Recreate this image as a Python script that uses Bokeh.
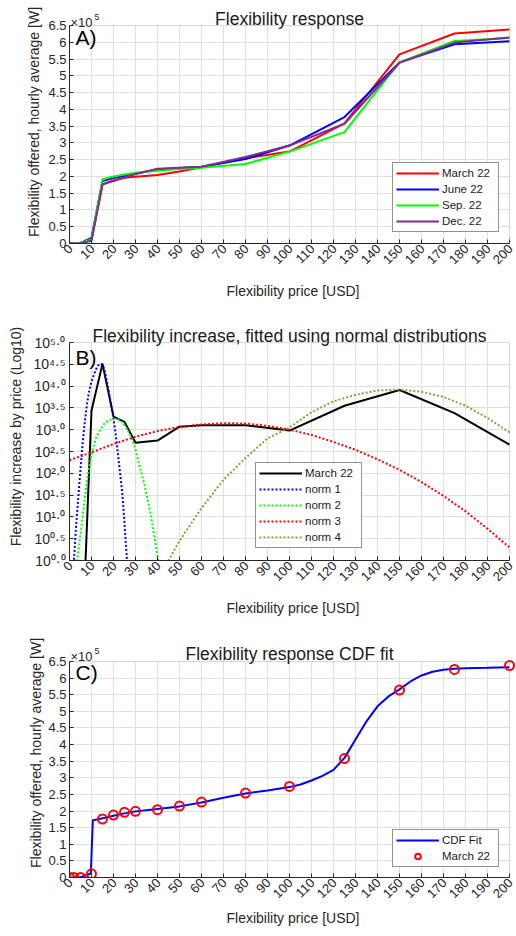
import math
from bokeh.plotting import figure
from bokeh.layouts import column
from bokeh.models import (FixedTicker, NumeralTickFormatter, CustomJSTickFormatter, Label,
                          BoxAnnotation, LinearAxis, Range1d)
from bokeh.embed import file_html
from bokeh.resources import INLINE

FONT = "Liberation Sans"
INK = "#262626"
GRID = "#dfdfdf"
EDGE = "#9a9a9a"

price_ticks = list(range(0, 201, 10))
power_ticks = [0, 0.5, 1, 1.5, 2, 2.5, 3, 3.5, 4, 4.5, 5, 5.5, 6, 6.5]
log_tick_exponents = [0.0, 0.5, 1.0, 1.5, 2.0, 2.5, 3.0, 3.5, 4.0, 4.5, 5.0]

# ---- Panel A / C data: flexibility offered (x 1e5 W) vs price (USD)
price = [0, 2, 5, 10, 15, 20, 25, 30, 40, 50, 60, 80, 100, 125, 150, 175, 200]
march22 = [0, 0, 0, 0.11, 1.76, 1.88, 1.96, 1.99, 2.04, 2.15, 2.27, 2.54, 2.74, 3.58, 5.64, 6.26, 6.38]
june22 = [0, 0, 0.02, 0.17, 1.86, 1.95, 2.02, 2.08, 2.21, 2.25, 2.29, 2.52, 2.92, 3.77, 5.40, 5.94, 6.03]
sep22 = [0, 0, 0.02, 0.12, 1.92, 2.00, 2.06, 2.11, 2.17, 2.22, 2.26, 2.37, 2.74, 3.32, 5.40, 6.04, 6.13]
dec22 = [0, 0, 0.01, 0.08, 1.77, 1.86, 1.97, 2.07, 2.23, 2.26, 2.29, 2.58, 2.92, 3.57, 5.39, 5.99, 6.14]

# ---- Panel B data: log10 of flexibility increase by price
inc_x = [5, 10, 15, 20, 25, 30, 40, 50, 60, 80, 100, 125, 150, 175, 200]
inc_log = [-2.9, 3.44, 4.51, 3.30, 3.18, 2.70, 2.75, 3.07, 3.10, 3.10, 2.98, 3.55, 3.91, 3.38, 2.66]

norm1_x = [1, 2, 3, 4, 5, 6, 7, 8, 9, 10, 11, 12, 13, 14, 15, 16, 17, 18, 19, 20, 21, 22, 23, 24, 25, 26, 27]
norm1_log = [-0.9, 0.0, 0.8, 1.45, 2.1, 2.7, 3.2, 3.6, 3.9, 4.1, 4.25, 4.38, 4.47, 4.51, 4.5, 4.35, 4.1,
             3.85, 3.55, 3.25, 2.9, 2.45, 2.0, 1.55, 0.85, 0.1, -0.6]

norm2_x = [3, 4, 5, 6, 7, 8, 9, 10, 12, 14, 16, 18, 20, 22, 24, 26, 28, 30, 32, 34, 36, 38, 40, 41]
norm2_log = [-0.2, 0.2, 0.6, 1.0, 1.45, 1.85, 2.15, 2.42, 2.8, 3.0, 3.15, 3.22, 3.25, 3.24, 3.17, 3.03,
             2.83, 2.55, 2.15, 1.75, 1.3, 0.75, 0.1, -0.2]

norm3_x = [0, 10, 20, 30, 40, 50, 60, 70, 80, 90, 100, 110, 120, 130, 140, 150, 160, 170, 180, 190, 200]
norm3_log = [2.30, 2.48, 2.67, 2.84, 2.97, 3.06, 3.12, 3.15, 3.14, 3.09, 3.00, 2.88, 2.72, 2.54, 2.32,
             2.08, 1.80, 1.48, 1.13, 0.73, 0.30]

norm4_x = [40, 45, 50, 60, 70, 80, 90, 100, 110, 120, 130, 140, 150, 160, 170, 180, 190, 200]
norm4_log = [-0.4, 0.0, 0.45, 1.2, 1.85, 2.35, 2.8, 3.05, 3.4, 3.65, 3.8, 3.9, 3.92, 3.87, 3.75, 3.55,
             3.27, 2.94]

# ---- Panel C: CDF fit (x 1e5 W)
cdf_x = [0, 5, 9.7, 10.6, 12, 15, 20, 25, 30, 40, 50, 60, 70, 80, 90, 100, 105, 110, 115, 120, 125,
         130, 135, 140, 145, 150, 155, 160, 165, 170, 175, 180, 190, 200]
cdf_y = [0, 0.01, 0.12, 1.72, 1.74, 1.78, 1.86, 1.93, 1.99, 2.06, 2.14, 2.26, 2.40, 2.53, 2.62, 2.72,
         2.80, 2.92, 3.06, 3.24, 3.60, 4.15, 4.70, 5.15, 5.45, 5.66, 5.90, 6.08, 6.19, 6.25, 6.28, 6.30,
         6.31, 6.33]

X_MAX = 200
PX_PER_USD = 2.2            # axes box is 440 px wide for 0..200 USD
LABEL_SHIFT_PX = 1          # rotated price labels sit a little right of their ticks
RIGHT_PAD_PX = 7            # frame runs to the page edge; axes box stops 7 px before it


def style_text_axis(ax):
    ax.major_label_text_font = FONT
    ax.major_label_text_font_size = "13px"
    ax.major_label_text_color = INK
    ax.axis_label_text_font = FONT
    ax.axis_label_text_font_size = "14px"
    ax.axis_label_text_font_style = "normal"
    ax.axis_label_text_color = INK


def make_fig(height, bottom, y_top, y_bot, axis_top, xlabel_standoff, **kw):
    # the frame runs up to the figure's top edge and to its right edge; the strips outside the
    # axes box (above axis_top, right of X_MAX) are blanked and hold the titles / last label
    x_end = X_MAX + RIGHT_PAD_PX / PX_PER_USD
    p = figure(width=516, height=height, x_range=(0, x_end), y_range=(y_bot, y_top),
               output_backend="svg", toolbar_location=None, min_border_left=69,
               min_border_right=0, min_border_top=0, min_border_bottom=bottom, **kw)
    p.background_fill_color = "white"
    p.border_fill_color = "white"
    p.outline_line_color = None
    p.yaxis.bounds = (y_bot, axis_top)
    p.xaxis.bounds = (0, X_MAX)
    for ax in (p.xaxis[0], p.yaxis[0]):
        ax.level = "overlay"
        ax.axis_line_color = INK
        ax.major_tick_line_color = INK
        ax.major_tick_in = 4
        ax.major_tick_out = 0
        ax.minor_tick_line_color = None
        style_text_axis(ax)
    xa = p.xaxis[0]
    xa.ticker = FixedTicker(ticks=price_ticks)
    xa.formatter = CustomJSTickFormatter(code="return ''")
    xa.major_label_text_font_size = "0px"
    xa.major_label_standoff = 0
    p.yaxis.major_label_standoff = 3
    p.grid.grid_line_color = GRID
    p.grid.grid_line_width = 1

    shift = LABEL_SHIFT_PX / PX_PER_USD
    p.extra_x_ranges = {"labels": Range1d(-shift, x_end - shift)}
    lab = LinearAxis(x_range_name="labels", ticker=FixedTicker(ticks=price_ticks),
                     bounds=(0, X_MAX))
    lab.axis_line_color = None
    lab.major_tick_line_color = None
    lab.minor_tick_line_color = None
    lab.major_tick_in = 0
    lab.major_tick_out = 0
    lab.major_label_orientation = math.pi / 4
    lab.major_label_standoff = 3
    style_text_axis(lab)
    lab.axis_label = "Flexibility price [USD]"
    lab.axis_label_standoff = xlabel_standoff
    p.add_layout(lab, "below")

    # blank strips outside the axes box (drawn over the grid, under the data)
    p.add_layout(BoxAnnotation(bottom=axis_top, fill_color="white", fill_alpha=1.0,
                               line_color=None, level="underlay"))
    p.add_layout(BoxAnnotation(left=X_MAX, fill_color="white", fill_alpha=1.0,
                               line_color=None, level="underlay"))
    return p


def finish_frame(p, axis_top):
    p.add_layout(BoxAnnotation(left=0, right=X_MAX, top=axis_top, fill_color=None,
                               line_color=EDGE, line_width=1))


def add_title(p, text, ytop, yoff):
    p.add_layout(Label(x=X_MAX / 2, y=ytop, y_offset=yoff, text=text, text_align="center",
                       text_baseline="alphabetic", text_font=FONT, text_font_size="17.5px",
                       text_color="#1a1a1a"))


def add_tag(p, text, ytop, yoff):
    p.add_layout(Label(x=0, y=ytop, x_offset=6, y_offset=yoff, text=text, text_align="left",
                       text_baseline="top", text_font=FONT, text_font_size="21px",
                       text_color="#000000"))


def add_multiplier(p, ytop, yoff):
    p.add_layout(Label(x=0, y=ytop, x_offset=1, y_offset=yoff, text="×10", text_align="left",
                       text_baseline="alphabetic", text_font=FONT, text_font_size="13px",
                       text_color=INK))
    p.add_layout(Label(x=0, y=ytop, x_offset=25, y_offset=yoff + 6, text="5", text_align="left",
                       text_baseline="alphabetic", text_font=FONT, text_font_size="9px",
                       text_color=INK))


def style_legend(p, loc):
    lg = p.legend[0]
    lg.location = loc
    lg.border_line_color = INK
    lg.border_line_width = 1
    lg.background_fill_color = "white"
    lg.background_fill_alpha = 1
    lg.padding = 3
    lg.spacing = 2
    lg.margin = 0
    lg.glyph_width = 43
    lg.glyph_height = 14
    lg.label_height = 14
    lg.label_width = 53
    lg.label_standoff = 3
    lg.label_text_font = FONT
    lg.label_text_font_size = "11.5px"
    lg.label_text_color = "#1a1a1a"


# ---------------- Panel A (frame 243 px tall, axes box 218 px)
pA = make_fig(312, 69, 6.5 * 243 / 218, 0, 6.5, 12)
pA.yaxis.ticker = FixedTicker(ticks=power_ticks)
pA.yaxis.formatter = NumeralTickFormatter(format="0.[0]")
pA.yaxis.axis_label = "Flexibility offered, hourly average [W]"
pA.yaxis.axis_label_standoff = 3
pA.line(price, march22, line_color="#ff0000", line_width=2, legend_label="March 22")
pA.line(price, june22, line_color="#0000ff", line_width=2, legend_label="June 22")
pA.line(price, sep22, line_color="#00ff00", line_width=2, legend_label="Sep. 22")
pA.line(price, dec22, line_color="#7e2f8e", line_width=2, legend_label="Dec. 22")
style_legend(pA, (323, 11))
finish_frame(pA, 6.5)
add_title(pA, "Flexibility response", 6.5, 7)
add_tag(pA, "A)", 6.5, 0)
add_multiplier(pA, 6.5, 3)

# ---------------- Panel B (frame 248 px tall, axes box 218 px)
pB = make_fig(316, 68, 10 ** (5 * 248 / 218), 1, 1e5, 12, y_axis_type="log")
pB.yaxis.ticker = FixedTicker(ticks=[10 ** e for e in log_tick_exponents])
pB.yaxis.formatter = CustomJSTickFormatter(code="""
const sup = {"0": "\u2070", "1": "\u00b9", "2": "\u00b2", "3": "\u00b3", "4": "\u2074",
             "5": "\u2075", ".": "\u00b7"};
const e = Math.log10(tick).toFixed(1);
return "10" + e.split("").map((c) => sup[c]).join("");
""")
pB.yaxis.major_label_text_font_size = "14px"
pB.yaxis.major_label_standoff = 4
pB.yaxis.axis_label = "Flexibility increase by price (Log10)"
pB.yaxis.axis_label_standoff = 6
pB.line(inc_x, [10 ** v for v in inc_log], line_color="#000000", line_width=2, legend_label="March 22")
pB.line(norm1_x, [10 ** v for v in norm1_log], line_color="#0000ff", line_width=2, line_dash="2 2",
        legend_label="norm 1")
pB.line(norm2_x, [10 ** v for v in norm2_log], line_color="#00ff00", line_width=2, line_dash="2 2",
        legend_label="norm 2")
pB.line(norm3_x, [10 ** v for v in norm3_log], line_color="#ff0000", line_width=2, line_dash="2 2",
        legend_label="norm 3")
pB.line(norm4_x, [10 ** v for v in norm4_log], line_color="#77ac30", line_width=2, line_dash="2 2",
        legend_label="norm 4")
style_legend(pB, (186, 12))
finish_frame(pB, 1e5)
add_title(pB, "Flexibility increase, fitted using normal distributions", 1e5, 7)
add_tag(pB, "B)", 1e5, -3)

# ---------------- Panel C (frame 249 px tall, axes box 216 px)
pC = make_fig(308, 59, 6.5 * 249 / 216, 0, 6.5, 5)
pC.yaxis.ticker = FixedTicker(ticks=power_ticks)
pC.yaxis.formatter = NumeralTickFormatter(format="0.[0]")
pC.yaxis.axis_label = "Flexibility offered, hourly average [W]"
pC.yaxis.axis_label_standoff = 1
pC.line(cdf_x, cdf_y, line_color="#0000ff", line_width=2, legend_label="CDF Fit")
pC.scatter(price, march22, marker="circle", size=9, fill_color=None, line_color="#ff0000",
           line_width=2, legend_label="March 22")
style_legend(pC, (323, 10))
finish_frame(pC, 6.5)
add_title(pC, "Flexibility response CDF fit", 6.5, 8)
add_tag(pC, "C)", 6.5, 1)
add_multiplier(pC, 6.5, 5)

layout = column(pA, pB, pC, spacing=0)
with open("out.html", "w", encoding="utf-8") as f:
    f.write(file_html(layout, INLINE))
